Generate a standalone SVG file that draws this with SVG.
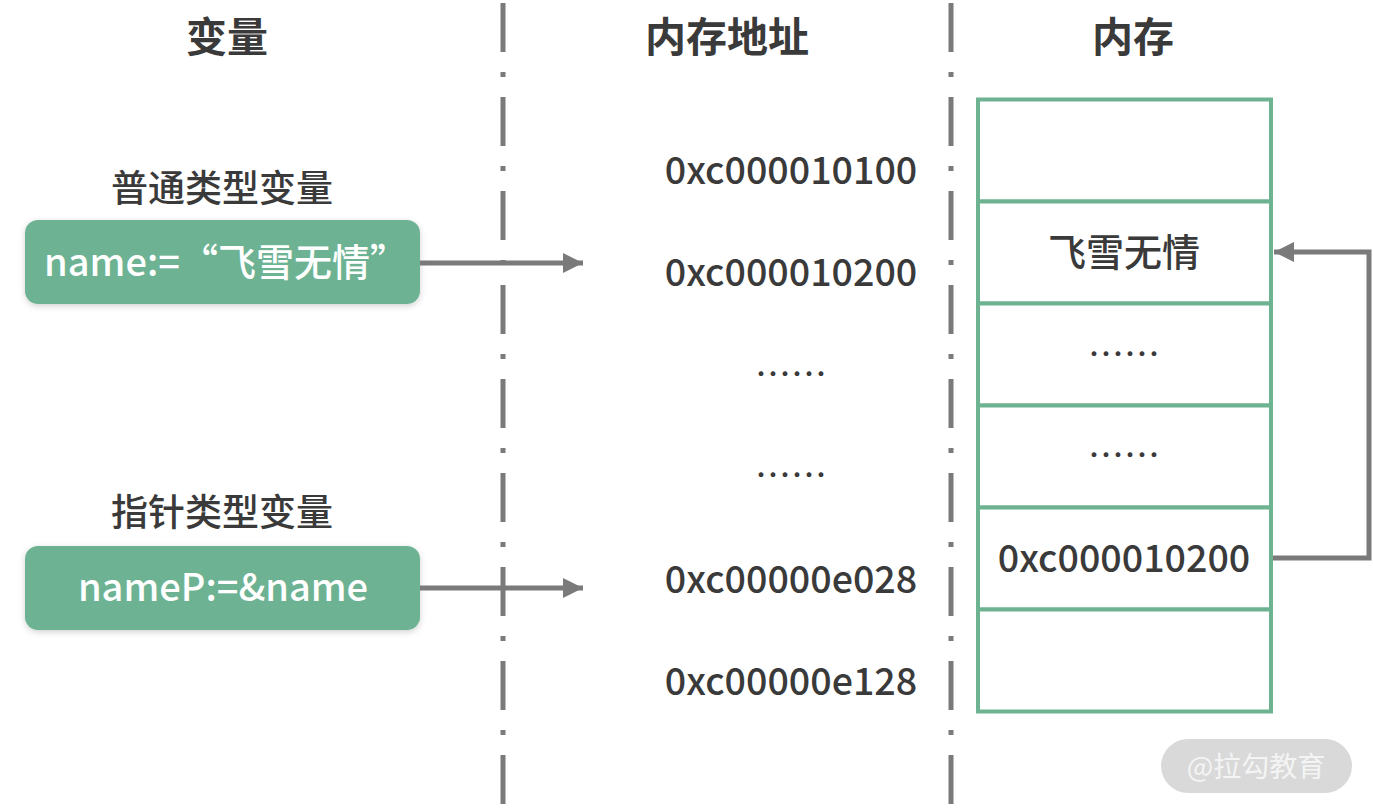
<svg xmlns="http://www.w3.org/2000/svg" width="1373" height="811" viewBox="0 0 1373 811">
<style>
.t{font-family:"Noto Sans CJK SC","Noto Sans",sans-serif;fill:#3a3a3a}
.h{font-size:41px;font-weight:bold;text-anchor:middle}
.l{font-size:37px;text-anchor:middle;font-weight:500}
.a{font-size:37.6px;text-anchor:middle;font-weight:500}
.c{font-size:38px;text-anchor:middle;font-weight:500}
.d{font-size:36px;text-anchor:middle}
.w{font-family:"Noto Sans CJK SC","Noto Sans",sans-serif;fill:#ffffff;font-size:38px;font-weight:500}
.div{stroke:#7a7a7a;stroke-width:5;stroke-dasharray:49 20 5 20;fill:none}
.cell{fill:#ffffff;stroke:#6db391;stroke-width:4}
.conn{stroke:#7a7a7a;stroke-width:5;fill:none}
.node{fill:#6db393}
</style>
<defs>
<marker id="ah" viewBox="0 0 10 10" refX="10" refY="5" markerWidth="4" markerHeight="4" markerUnits="strokeWidth" orient="auto">
<path d="M0,0 L10,5 L0,10 z" fill="#7a7a7a"/>
</marker>
<filter id="sh" x="-10%" y="-20%" width="120%" height="150%">
<feDropShadow dx="0" dy="2" stdDeviation="3" flood-color="#000" flood-opacity="0.18"/>
</filter>
</defs>
<rect width="1373" height="811" fill="#ffffff"/>
<g id="dividers">
<line class="div" x1="503" y1="3" x2="503" y2="811"/>
<line class="div" x1="951" y1="3" x2="951" y2="811"/>
</g>
<g id="headers">
<text class="t h" x="227" y="52">变量</text>
<text class="t h" x="727" y="52">内存地址</text>
<text class="t h" x="1133" y="52">内存</text>
</g>
<g id="node-normal">
<text class="t l" x="222" y="202">普通类型变量</text>
<rect class="node" x="25" y="220" width="395" height="84" rx="13" filter="url(#sh)"/>
<text class="w" x="44" y="276">name:=“飞雪无情”</text>
</g>
<g id="node-pointer">
<text class="t l" x="222" y="526">指针类型变量</text>
<rect class="node" x="25" y="546" width="395" height="84" rx="13" filter="url(#sh)"/>
<text class="w" x="223" y="601" text-anchor="middle">nameP:=&amp;name</text>
</g>
<g id="addresses">
<text class="t a" x="791" y="184">0xc000010100</text>
<text class="t a" x="791" y="286">0xc000010200</text>
<text class="t d" x="791" y="388">……</text>
<text class="t d" x="791" y="489">……</text>
<text class="t a" x="791" y="593">0xc00000e028</text>
<text class="t a" x="791" y="695">0xc00000e128</text>
</g>
<g id="memory">
<rect class="cell" x="978" y="99.5" width="293" height="102"/>
<rect class="cell" x="978" y="201.5" width="293" height="102"/>
<rect class="cell" x="978" y="303.5" width="293" height="102"/>
<rect class="cell" x="978" y="405.5" width="293" height="102"/>
<rect class="cell" x="978" y="507.5" width="293" height="102"/>
<rect class="cell" x="978" y="609.5" width="293" height="102"/>
<text class="t c" x="1124" y="266">飞雪无情</text>
<text class="t d" x="1124" y="368">……</text>
<text class="t d" x="1124" y="469">……</text>
<text class="t a" x="1124" y="572">0xc000010200</text>
</g>
<g id="connectors">
<line class="conn" x1="420" y1="263" x2="583" y2="263" marker-end="url(#ah)"/>
<line class="conn" x1="420" y1="588" x2="583" y2="588" marker-end="url(#ah)"/>
<polyline class="conn" points="1273,558 1369,558 1369,252 1274,252" marker-end="url(#ah)"/>
</g>
<g id="watermark">
<rect x="1161" y="739" width="191" height="54" rx="27" fill="#d9d9d9"/>
<text x="1256" y="777" text-anchor="middle" font-family="Noto Sans CJK SC, sans-serif" font-size="28" fill="#f4f4f4">@拉勾教育</text>
</g>
</svg>
